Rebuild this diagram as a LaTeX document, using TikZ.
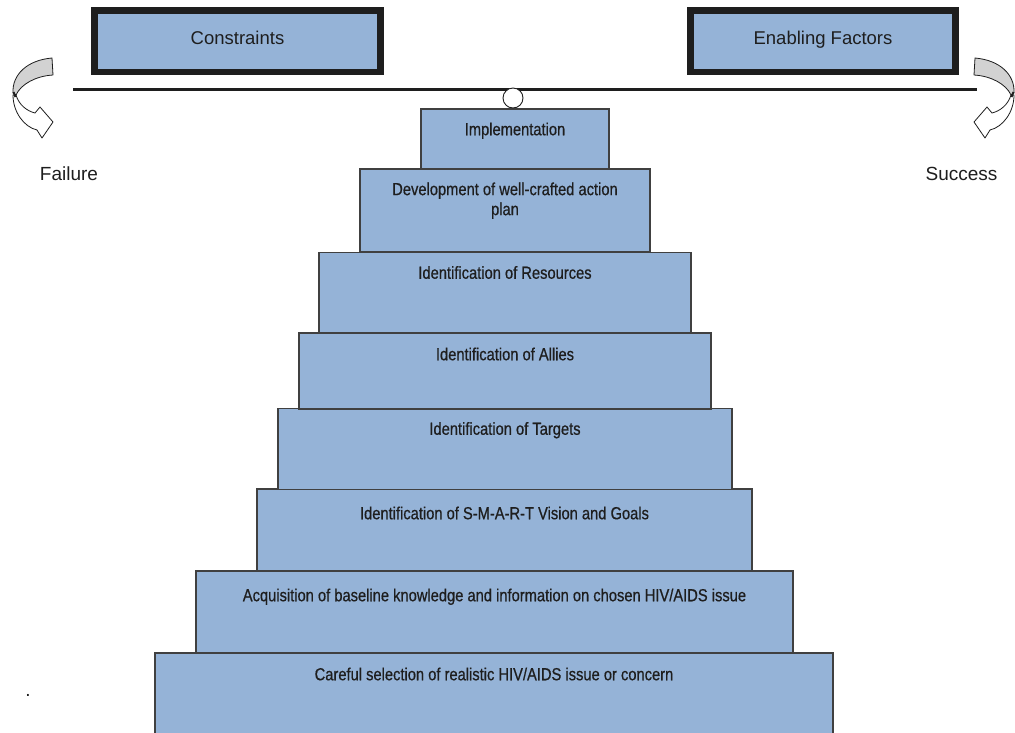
\documentclass[tikz,border=0pt]{standalone}
\usepackage{fontspec}
\setmainfont{Liberation Sans}
\newfontfamily\narrowfont[FakeStretch=0.84,FakeBold=0.6]{Liberation Sans}
\definecolor{boxblue}{HTML}{95B3D7}
\definecolor{ink}{HTML}{1E1E1E}
\definecolor{arrowgray}{HTML}{D2D2D2}
\tikzset{
  stepbox/.style={draw=ink!85, fill=boxblue, line width=1.5pt, inner sep=0pt, rectangle},
  steptext/.style={anchor=base, inner sep=0pt, text=ink, font=\narrowfont\fontsize{17.5}{20}\selectfont, align=center},
  topbox/.style={draw=ink, fill=boxblue, line width=6.5pt, inner sep=0pt, rectangle},
  toptext/.style={anchor=base, inner sep=0pt, text=ink, font=\fontsize{18.5}{22}\selectfont},
  sidetext/.style={anchor=base, inner sep=0pt, text=ink, font=\fontsize{19}{22}\selectfont},
  arrowline/.style={draw=ink, line width=0.8pt, line join=round},
}
\begin{document}
\begin{tikzpicture}[x=1pt, y=-1pt]
\useasboundingbox (0,0) rectangle (1015,732);
\clip (0,0) rectangle (1015,732);
\fill[white] (0,0) rectangle (1015,732);

% top boxes
\node[topbox, minimum width=286pt, minimum height=61.5pt] (cons) at (237.5,41.25) {};
\node[toptext] (conslbl) at ([yshift=-3pt]cons.center) {Constraints};
\node[topbox, minimum width=265pt, minimum height=61.5pt] (enab) at (823,41.25) {};
\node[toptext] (enablbl) at ([yshift=-3pt]enab.center) {Enabling Factors};

% beam
\coordinate (beamL) at (73,89.5);
\coordinate (beamR) at (977,89.5);
\draw[ink, line width=3.5pt] (beamL) -- (beamR);

% steps (bottom to top)
\node[stepbox, minimum width=678pt, minimum height=100pt] (s8) at (494,703) {};
\node[stepbox, minimum width=597pt, minimum height=82pt] (s7) at (494.5,612) {};
\node[stepbox, minimum width=495pt, minimum height=82pt] (s6) at (504.5,530) {};
\node[stepbox, minimum width=454pt, minimum height=81pt] (s5) at (505,449) {};
\node[stepbox, minimum width=412pt, minimum height=76pt] (s4) at (505,371) {};
\node[stepbox, minimum width=372pt, minimum height=80pt] (s3) at (505,292.5) {};
\node[stepbox, minimum width=290pt, minimum height=83pt] (s2) at (505,210.5) {};
\node[stepbox, minimum width=188pt, minimum height=60pt] (s1) at (515,139) {};

\node[steptext] (t1) at ([yshift=-27pt]s1.north) {Implementation};
\node[steptext, anchor=north, yshift=13pt] (t2) at ([yshift=-27pt]s2.north) {Development of well-crafted action\\plan};
\node[steptext] (t3) at ([yshift=-27pt]s3.north) {Identification of Resources};
\node[steptext] (t4) at ([yshift=-28pt]s4.north) {Identification of Allies};
\node[steptext] (t5) at ([yshift=-27pt]s5.north) {Identification of Targets};
\node[steptext] (t6) at ([yshift=-31pt]s6.north) {Identification of S-M-A-R-T Vision and Goals};
\node[steptext] (t7) at ([yshift=-31pt]s7.north) {Acquisition of baseline knowledge and information on chosen HIV/AIDS issue};
\node[steptext] (t8) at ([yshift=-28pt]s8.north) {Careful selection of realistic HIV/AIDS issue or concern};

% fulcrum
\node[circle, draw=ink, fill=white, line width=0.9pt, minimum size=20pt, inner sep=0pt] (fulcrum) at (513,98) {};

% curved arrows (left, then mirrored right)
\begin{scope}
  \path[arrowline, fill=arrowgray] (52,58) -- (53,75) .. controls (36,76) and (21,84) .. (16,95) -- (13,93) .. controls (12,74) and (28,60) .. (52,58) -- cycle;
  \path[arrowline, fill=white] (13,95) .. controls (13,112) and (24,127) .. (37,130) -- (42,138) -- (53,122) -- (40,107) -- (35,113) .. controls (27,111) and (19,105) .. (16,95) -- cycle;
  \draw[ink, line width=2pt] (13.5,92) -- (15.5,97);
\end{scope}
\begin{scope}[shift={(1027,0)}, xscale=-1]
  \path[arrowline, fill=arrowgray] (52,58) -- (53,75) .. controls (36,76) and (21,84) .. (16,95) -- (13,93) .. controls (12,74) and (28,60) .. (52,58) -- cycle;
  \path[arrowline, fill=white] (13,95) .. controls (13,112) and (24,127) .. (37,130) -- (42,138) -- (53,122) -- (40,107) -- (35,113) .. controls (27,111) and (19,105) .. (16,95) -- cycle;
  \draw[ink, line width=2pt] (13.5,92) -- (15.5,97);
\end{scope}

\node[sidetext] (failure) at (69,180) {Failure};
\node[sidetext] (success) at (961.5,180) {Success};
\node[sidetext] (dot) at (28,696) {.};
\end{tikzpicture}
\end{document}
